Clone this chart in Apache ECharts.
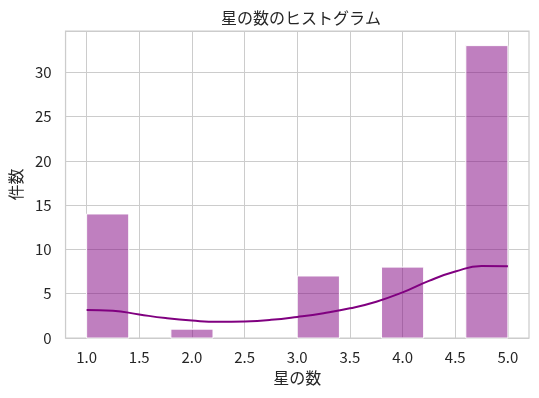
<!DOCTYPE html>
<html>
<head>
<meta charset="utf-8">
<script src="https://cdn.jsdelivr.net/npm/echarts@6/dist/echarts.min.js"></script>
<style>
  html, body { margin: 0; padding: 0; background: #fff; }
  #chart { width: 539px; height: 398px; }
</style>
</head>
<body>
<div id="chart"></div>
<script>
// histogram bins (star rating) and counts
var binStart = [1.0, 1.4, 1.8, 2.2, 2.6, 3.0, 3.4, 3.8, 4.2, 4.6]
var binEnd = [1.4, 1.8, 2.2, 2.6, 3.0, 3.4, 3.8, 4.2, 4.6, 5.0]
var counts = [14, 0, 1, 0, 0, 7, 0, 8, 0, 33]

// kde curve
var kdeX = [1.0, 1.25, 1.5, 1.75, 2.0, 2.25, 2.5, 2.75, 3.0, 3.25, 3.5, 3.75, 4.0, 4.25, 4.5, 4.75, 5.0]
var kdeY = [3.17, 3.08, 2.65, 2.25, 1.97, 1.82, 1.87, 2.05, 2.38, 2.8, 3.35, 4.1, 5.15, 6.45, 7.5, 8.12, 8.1]

var xTicks = [1.0, 1.5, 2.0, 2.5, 3.0, 3.5, 4.0, 4.5, 5.0]

var font = "'Noto Sans CJK JP', 'Noto Sans', sans-serif"
var textColor = '#262626'

var chart = echarts.init(document.getElementById('chart'))

var barData = []
for (var i = 0; i < counts.length; i++) {
  if (counts[i] > 0) barData.push([binStart[i], binEnd[i], counts[i]])
}
var kdeData = kdeX.map(function(x, i) { return [x, kdeY[i]] })

chart.setOption({
  animation: false,
  title: {
    text: '星の数のヒストグラム',
    left: 296,
    textAlign: 'center',
    top: 5,
    textStyle: { fontFamily: font, fontSize: 16, fontWeight: 'normal', color: textColor }
  },
  grid: {
    left: 64,
    right: 10,
    top: 31,
    bottom: 60,
    show: true,
    borderColor: '#cccccc',
    borderWidth: 1.25,
    backgroundColor: '#fff'
  },
  xAxis: {
    type: 'value',
    min: 0.8,
    max: 5.2,
    name: '星の数',
    nameLocation: 'middle',
    nameGap: 31,
    nameTextStyle: { fontFamily: font, fontSize: 16, color: textColor },
    axisLine: { show: false },
    axisTick: { show: false, customValues: xTicks },
    axisLabel: {
      customValues: xTicks,
      margin: 12,
      fontFamily: font,
      fontSize: 15,
      color: textColor,
      formatter: function(v) { return v.toFixed(1) }
    },
    splitLine: { show: true, lineStyle: { color: '#cccccc', width: 1 } }
  },
  yAxis: {
    type: 'value',
    min: 0,
    max: 34.65,
    interval: 5,
    name: '件数',
    nameLocation: 'middle',
    nameGap: 40,
    nameTextStyle: { fontFamily: font, fontSize: 16, color: textColor },
    axisLine: { show: false },
    axisTick: { show: false },
    axisLabel: {
      margin: 14,
      showMaxLabel: false,
      fontFamily: font,
      fontSize: 15,
      color: textColor
    },
    splitLine: { show: true, lineStyle: { color: '#cccccc', width: 1 } }
  },
  series: [
    {
      type: 'custom',
      data: barData,
      encode: { x: [0, 1], y: 2 },
      renderItem: function(params, api) {
        var p0 = api.coord([api.value(0), api.value(2)])
        var p1 = api.coord([api.value(1), 0])
        return {
          type: 'rect',
          shape: { x: p0[0], y: p0[1], width: p1[0] - p0[0], height: p1[1] - p0[1] },
          style: { fill: 'rgba(128, 0, 128, 0.5)', stroke: '#ffffff', lineWidth: 1 }
        }
      }
    },
    {
      type: 'line',
      data: kdeData,
      smooth: true,
      showSymbol: false,
      lineStyle: { color: '#800080', width: 2 },
      z: 3
    }
  ]
})
</script>
</body>
</html>
